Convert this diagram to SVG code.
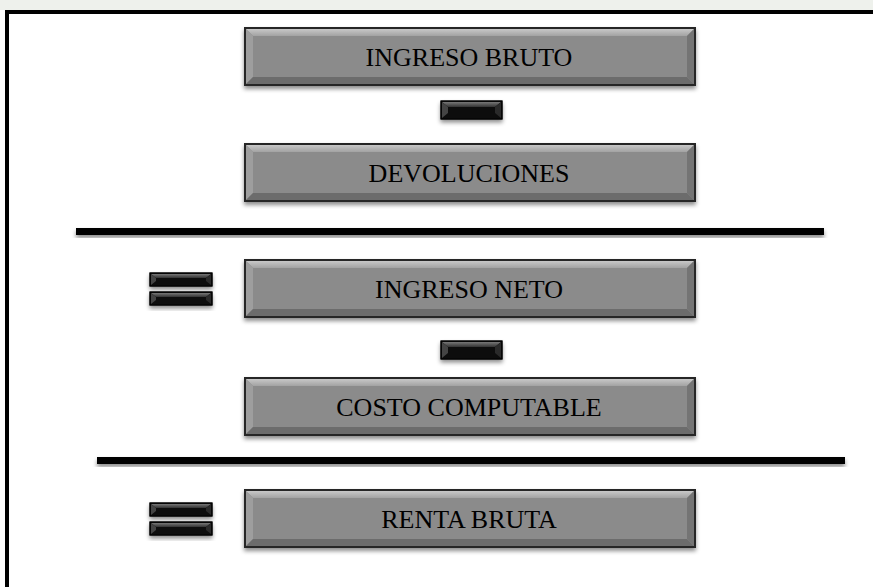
<svg xmlns="http://www.w3.org/2000/svg" xmlns:xlink="http://www.w3.org/1999/xlink" width="873" height="587" viewBox="0 0 873 587">
<style>
.lbl{font-family:"Liberation Serif","Times New Roman",serif;font-size:26px;fill:#000;text-anchor:middle;dominant-baseline:central}
.rule{fill:#000}
</style>
<defs>
<filter id="sh" x="-10%" y="-20%" width="120%" height="160%">
<feDropShadow dx="0" dy="3" stdDeviation="2" flood-color="#000" flood-opacity="0.45"/>
</filter>
<linearGradient id="topb" x1="0" y1="0" x2="0" y2="1">
<stop offset="0" stop-color="#c8c8c8"/><stop offset="1" stop-color="#a2a2a2"/>
</linearGradient>
<linearGradient id="barTop" x1="0" y1="0" x2="0" y2="1">
<stop offset="0" stop-color="#777"/><stop offset="1" stop-color="#333"/>
</linearGradient>
<g id="box">
<rect x="0" y="0" width="450" height="57" fill="#8b8b8b" stroke="#262626" stroke-width="2" filter="url(#sh)"/>
<polygon points="1,1 449,1 442,8 8,8" fill="url(#topb)"/>
<polygon points="1,1 8,8 8,49 1,56" fill="#9e9e9e"/>
<polygon points="1,56 8,49 442,49 449,56" fill="#6c6c6c"/>
<polygon points="449,1 449,56 442,49 442,8" fill="#747474"/>
<rect x="8" y="8" width="434" height="41" fill="#8b8b8b"/>
<rect x="0" y="0" width="450" height="57" fill="none" stroke="#262626" stroke-width="2"/>
</g>
<g id="minus">
<rect x="0" y="0" width="61" height="18" fill="#111" stroke="#000" stroke-width="1" filter="url(#sh)"/>
<polygon points="1,1 60,1 54,6 7,6" fill="url(#barTop)"/>
<polygon points="1,1 7,6 7,12 1,17" fill="#444"/>
<polygon points="60,1 60,17 54,12 54,6" fill="#2a2a2a"/>
<rect x="0" y="0" width="61" height="18" fill="none" stroke="#000" stroke-width="1"/>
</g>
<g id="eqbar">
<rect x="0" y="0" width="62" height="13" fill="#111" stroke="#000" stroke-width="1" filter="url(#sh)"/>
<polygon points="1,1 61,1 56,5 6,5" fill="url(#barTop)"/>
<polygon points="1,1 6,5 6,8 1,12" fill="#444"/>
<polygon points="61,1 61,12 56,8 56,5" fill="#2a2a2a"/>
<rect x="0" y="0" width="62" height="13" fill="none" stroke="#000" stroke-width="1"/>
</g>
</defs>
<rect x="0" y="0" width="873" height="587" fill="#fff"/>
<rect x="0" y="0" width="873" height="10" fill="#eef1ec"/>
<g id="frame">
<rect x="7" y="12" width="900" height="620" fill="#fff" stroke="#000" stroke-width="4"/>
</g>
<g id="connectors">
<rect class="rule" x="76" y="228" width="748" height="7" filter="url(#sh)"/>
<rect class="rule" x="97" y="457" width="748" height="7" filter="url(#sh)"/>
</g>
<g id="ingreso-bruto">
<use xlink:href="#box" x="245" y="28"/>
<text class="lbl" x="469" y="57">INGRESO BRUTO</text>
</g>
<g id="minus-1"><use xlink:href="#minus" x="441" y="101"/></g>
<g id="devoluciones">
<use xlink:href="#box" x="245" y="144"/>
<text class="lbl" x="469" y="173">DEVOLUCIONES</text>
</g>
<g id="equals-1">
<use xlink:href="#eqbar" x="150" y="273"/>
<use xlink:href="#eqbar" x="150" y="292"/>
</g>
<g id="ingreso-neto">
<use xlink:href="#box" x="245" y="260"/>
<text class="lbl" x="469" y="289">INGRESO NETO</text>
</g>
<g id="minus-2"><use xlink:href="#minus" x="441" y="341"/></g>
<g id="costo-computable">
<use xlink:href="#box" x="245" y="378"/>
<text class="lbl" x="469" y="407">COSTO COMPUTABLE</text>
</g>
<g id="equals-2">
<use xlink:href="#eqbar" x="150" y="503"/>
<use xlink:href="#eqbar" x="150" y="522"/>
</g>
<g id="renta-bruta">
<use xlink:href="#box" x="245" y="490"/>
<text class="lbl" x="469" y="519">RENTA BRUTA</text>
</g>
</svg>
